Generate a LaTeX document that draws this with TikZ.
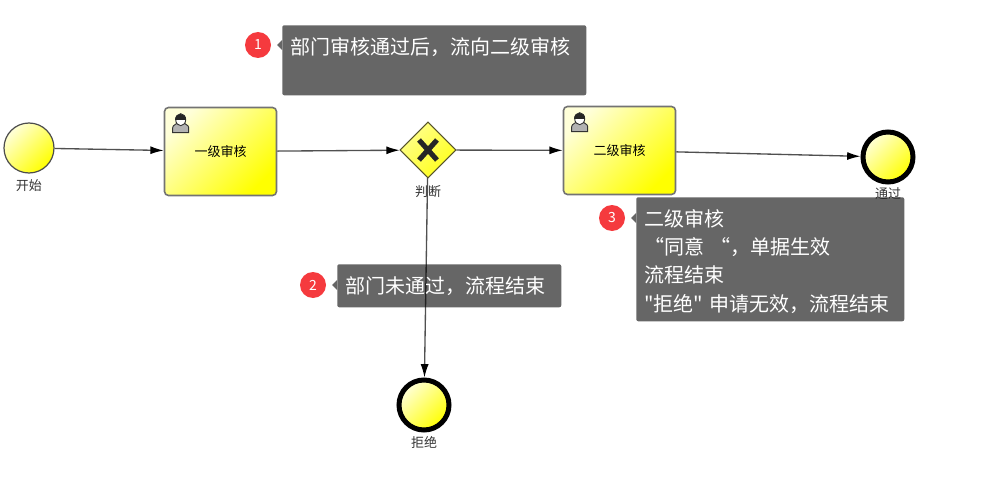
\documentclass[tikz,border=0pt]{standalone}
\usepackage{fontspec}
\setmainfont{Noto Sans CJK SC}
\newfontfamily\notefont{Noto Sans CJK SC}
\usetikzlibrary{arrows.meta,shapes.geometric,positioning}
\definecolor{flowline}{HTML}{505050}
\definecolor{badgered}{HTML}{F53A3E}
\tikzset{
    startevent/.style={circle,draw=black!70,line width=.9pt,minimum size=37.5pt,inner sep=0pt,
        shading=axis,top color=yellow!15,bottom color=yellow,shading angle=45},
    endevent/.style={circle,draw=black,line width=3.75pt,minimum size=37.5pt,inner sep=0pt,
        shading=axis,top color=yellow!15,bottom color=yellow,shading angle=45},
    usertask/.style={rectangle,rounded corners=3pt,draw=black!55,line width=1.2pt,
        minimum width=84pt,minimum height=66pt,inner sep=0pt,font=\fontsize{9.75}{12}\selectfont,
        shading=axis,top color=yellow!15,bottom color=yellow,shading angle=45},
    gateway/.style={diamond,aspect=1,draw=black!50!olive,line width=.8pt,minimum size=42pt,inner sep=0pt,
        shading=axis,top color=yellow!45,bottom color=yellow!90,shading angle=45},
    eventlabel/.style={inner sep=0pt,font=\fontsize{9.75}{12}\selectfont,text=black!80},
    flow/.style={draw=flowline,line width=1pt,-{Latex[length=10pt,width=6pt,color=black]}},
    gatemark/.style={draw=black!85,line width=3.8pt},
    notebox/.style={anchor=north west,rectangle,rounded corners=1.5pt,fill=black,fill opacity=.6,text opacity=1,
        text=white,align=left,inner xsep=6pt,inner ysep=0pt,font=\notefont\fontsize{15}{21.2}\selectfont},
    notetip/.style={fill=black,fill opacity=.6},
    badge/.style={circle,fill=badgered,text=white,minimum size=19.5pt,inner sep=0pt,font=\fontsize{10.5}{12}\selectfont},
    usericon/.pic={
        \draw[draw=black!80,fill=black!30,line width=.7pt] (-8,9) -- (-8,4) .. controls (-8,1) and (-4,1) .. (-3,-1)
            -- (3,-1) .. controls (4,1) and (8,1) .. (8,4) -- (8,9) -- cycle;
        \draw[draw=black!80,fill=white,line width=.7pt] (0,-4) ellipse (5 and 6);
        \fill[black!85] (-5.5,-4) .. controls (-5.5,-11.5) and (5.5,-11.5) .. (5.5,-4) -- cycle;
    }
}
\begin{document}
\begin{tikzpicture}[x=.75pt,y=-.75pt]
    \useasboundingbox (0,0) rectangle (982,492);

    \node[startevent] (start) at (29,148) {};
    \node[usertask] (task1) at (220.5,151.5) {一级审核};
    \node[gateway] (gate) at (428,150) {};
    \node[usertask] (task2) at (619.5,150.5) {二级审核};
    \node[endevent] (pass) at (888,157) {};
    \node[endevent] (reject) at (424,405) {};

    \node[eventlabel,below=4.5pt of start] (startlabel) {开始};
    \node[eventlabel,below=4.75pt of gate] (gatelabel) {判断};
    \node[eventlabel,below=2.5pt of pass] (passlabel) {通过};
    \node[eventlabel,below=2.5pt of reject] (rejectlabel) {拒绝};

    \pic at ([xshift=12.75pt,yshift=-12.75pt]task1.north west) {usericon};
    \pic at ([xshift=12.75pt,yshift=-12.75pt]task2.north west) {usericon};
    \draw[gatemark] (gate.center) ++(-9,-10) -- ++(18,20);
    \draw[gatemark] (gate.center) ++(9,-10) -- ++(-18,20);

    \draw[flow] (start) -- (task1);
    \draw[flow] (task1) -- (gate);
    \draw[flow] (gate) -- (task2);
    \draw[flow] (task2) -- (pass);
    \draw[flow] (gate) -- (reject);

    \node[notebox,text width=216pt,minimum height=52.5pt] (note1) at (282,25) {部门审核通过后，流向二级审核\\ \mbox{}};
    \node[notebox,text width=156pt,minimum height=32.25pt] (note2) at (337,264) {部门未通过，流程结束};
    \node[notebox,text width=189pt,minimum height=93pt] (note3) at (636,197)
        {\rule{0pt}{16pt}二级审核\\“同意 “，单据生效\\流程结束\\"拒绝" 申请无效，流程结束};

    \node[badge] (badge1) at (258,45) {1};
    \node[badge] (badge2) at (313,285) {2};
    \node[badge] (badge3) at (612,218) {3};

    \fill[notetip] (badge1 -| note1.west) ++(-5,0) -- ++(5,-5) -- ++(0,10) -- cycle;
    \fill[notetip] (badge2 -| note2.west) ++(-5,0) -- ++(5,-5) -- ++(0,10) -- cycle;
    \fill[notetip] (badge3 -| note3.west) ++(-5,0) -- ++(5,-5) -- ++(0,10) -- cycle;
\end{tikzpicture}
\end{document}
